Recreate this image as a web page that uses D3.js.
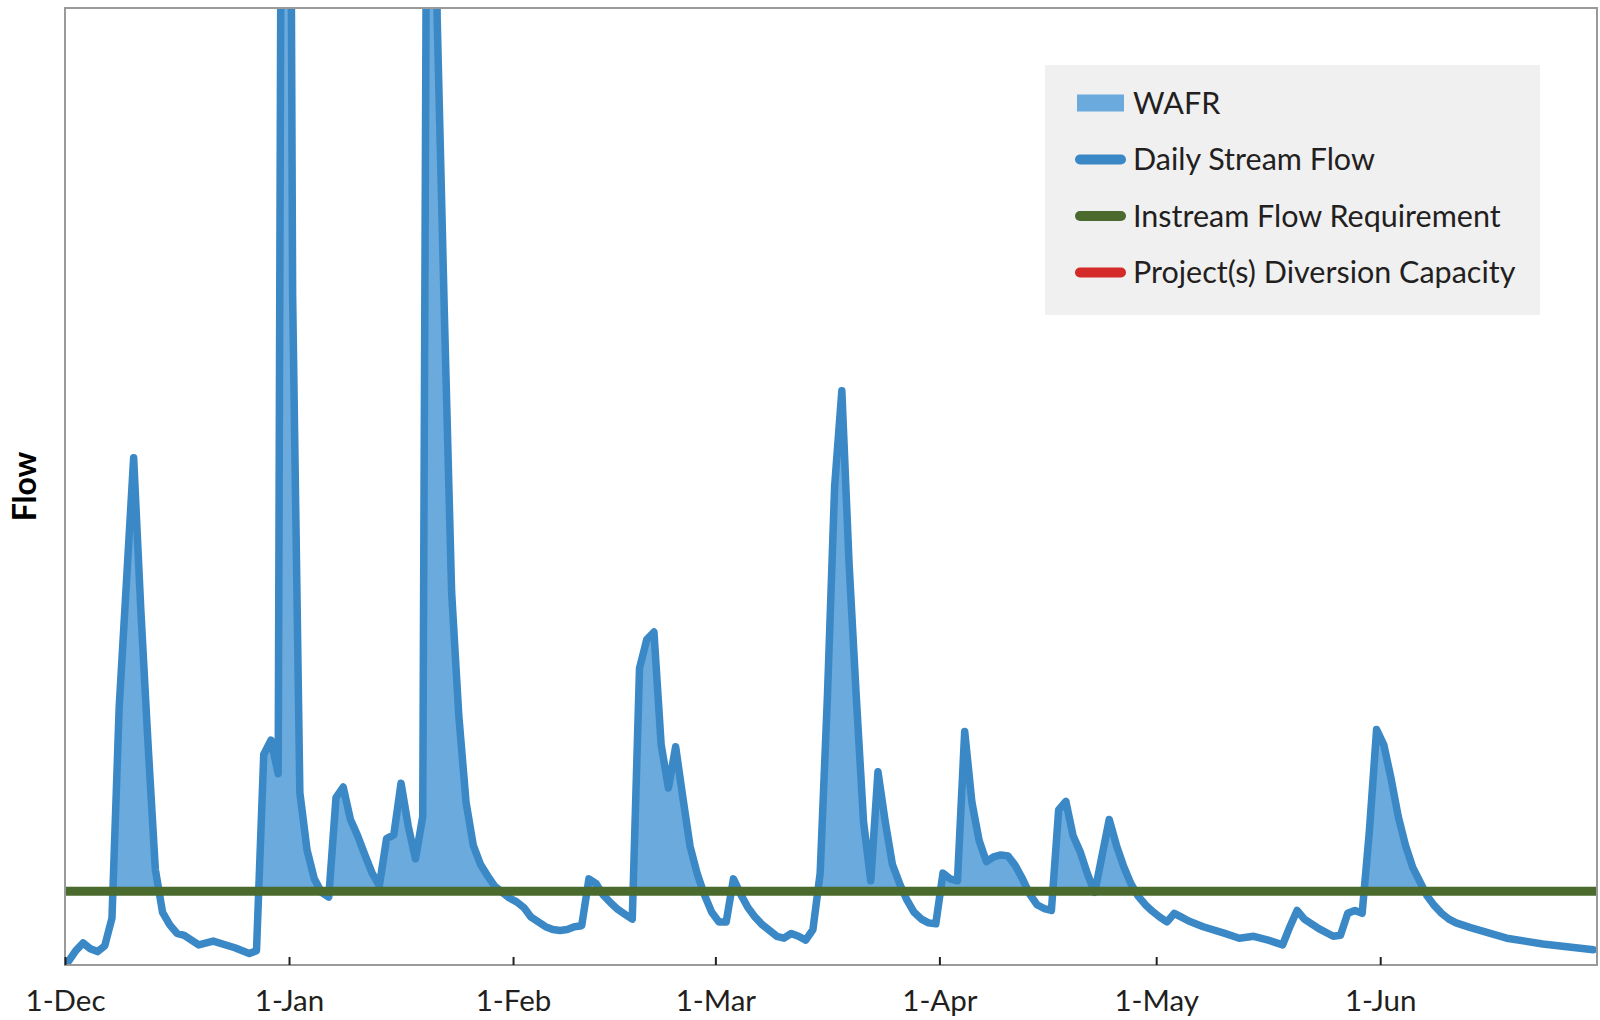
<!DOCTYPE html>
<html><head><meta charset="utf-8">
<script src="https://cdn.jsdelivr.net/npm/d3@7"></script>
<style>body{margin:0;background:#fff;} svg{display:block;}</style>
</head><body>
<svg id="chart" width="1600" height="1020"></svg>
<script>
// Daily stream flow vertices: days after 1-Dec, and flow (relative units)
const dayOffsets = [0,1,2,3,4,5,6,7,8,9,10,11,12,13,14,15,16,18,20,23,25,26,27,28,29,30,31,32,33,34,35,36,37,38,39,40,41,42,43,44,45,46,47,48,49,50,51,52,53,54,55,56,57,58,59,60,61,62,63,64,65,66,67,68,69,70,71,72,73,74,75,76,77,78,79,80,81,82,83,84,85,86,87,88,89,90,91,92,93,94,95,96,97,98,99,100,101,102,103,104,105,106,107,108,109,110,111,112,113,114,115,116,117,118,119,120,121,122,123,124,125,126,127,128,129,130,131,132,133,134,135,136,137,138,139,140,141,142,144,145,146,147,148,149,150,151,152,153,154,155,157,160,162,164,166,168,169,170,171,173,175,176,177,178,179,180,181,182,183,184,185,186,187,188,189,190,191,192,194,199,204,211];
const flowValues = [0.4,1.5,2.3,1.7,1.4,2.0,4.9,27,40,53,37,23,10,5.5,4.2,3.3,3.1,2.1,2.5,1.8,1.2,1.5,22,23.5,20,250,70,18,12,9,7.6,7.1,17.5,18.6,15.2,13.5,11.5,9.6,8.3,13.2,13.6,19.0,14.5,11.1,15.5,200,99,68,39,26,17,12.5,10.5,9.3,8.2,7.6,7.0,6.6,6.0,5.0,4.5,4.0,3.7,3.6,3.7,4.0,4.1,9.0,8.5,7.3,6.5,5.8,5.3,4.8,31,34,34.8,23,18.5,22.8,17.5,12.4,9.5,7.3,5.5,4.5,4.5,9.0,7.4,6.0,5.0,4.2,3.6,3.0,2.8,3.3,3.0,2.6,3.7,9.6,28,50,60,42,28,15,8.8,20.2,15,10.5,8.5,6.8,5.5,4.8,4.4,4.3,9.6,9.0,8.8,24.4,17,13,10.8,11.3,11.5,11.4,10.4,9.0,7.4,6.3,5.9,5.7,16.2,17.1,13.5,11.8,9.5,7.6,15.2,12.5,10.3,8.5,7.2,6.3,5.6,5.0,4.5,5.4,5.0,4.6,4.0,3.3,2.8,3.0,2.6,2.1,4.0,5.7,4.8,3.8,3.0,3.1,5.4,5.7,5.4,14,24.6,23,19.5,15.5,12.5,10.2,8.7,7.2,6.2,5.4,4.8,4.4,3.9,2.8,2.2,1.6];
const instreamFlowRequirement = 7.7;
const tickDates = ["2014-12-01","2015-01-01","2015-02-01","2015-03-01","2015-04-01","2015-05-01","2015-06-01"];
const tickLabels = ["1-Dec","1-Jan","1-Feb","1-Mar","1-Apr","1-May","1-Jun"];
const legendLabels = ["WAFR","Daily Stream Flow","Instream Flow Requirement","Project(s) Diversion Capacity"];
const legendColors = ["#6aaadc","#3a88c6","#4a6a2e","#d42a2a"];

const svg = d3.select("#chart");
const L = 65, T = 8, R = 1597, B = 965;
const start = new Date(Date.UTC(2014, 11, 1));
const end = new Date(Date.UTC(2015, 6, 1));
const x = d3.scaleUtc().domain([start, end]).range([L, R]);
const y = d3.scaleLinear().domain([0, 100]).range([B, T]);
const DAY = 864e5;
const data = dayOffsets.map((d, i) => ({date: new Date(start.getTime() + (d + 0.5) * DAY), v: flowValues[i]}));

const defs = svg.append("defs");
defs.append("clipPath").attr("id", "plotClip").append("rect")
  .attr("x", L).attr("y", T).attr("width", R - L).attr("height", B - T);
defs.append("clipPath").attr("id", "aboveClip").append("rect")
  .attr("x", L).attr("y", T).attr("width", R - L).attr("height", y(instreamFlowRequirement) - T);

const plot = svg.append("g").attr("clip-path", "url(#plotClip)");

plot.append("g").attr("clip-path", "url(#aboveClip)")
  .append("path").datum(data)
  .attr("fill", "#6aaadc")
  .attr("d", d3.area().x(d => x(d.date)).y0(y(instreamFlowRequirement)).y1(d => y(d.v)));

plot.append("path").datum(data)
  .attr("fill", "none").attr("stroke", "#3a88c6").attr("stroke-width", 7.5)
  .attr("stroke-linejoin", "round").attr("stroke-linecap", "round")
  .attr("d", d3.line().x(d => x(d.date)).y(d => y(d.v)));

plot.append("line")
  .attr("x1", x(start)).attr("x2", x(end))
  .attr("y1", y(instreamFlowRequirement)).attr("y2", y(instreamFlowRequirement))
  .attr("stroke", "#4a6a2e").attr("stroke-width", 9);

// frame
svg.append("rect").attr("x", L).attr("y", T).attr("width", R - L).attr("height", B - T)
  .attr("fill", "none").attr("stroke", "#9a9a9a").attr("stroke-width", 2);

// x axis
const axis = d3.axisBottom(x)
  .tickValues(tickDates.map(s => new Date(s + "T00:00:00Z")))
  .tickFormat((d, i) => tickLabels[i])
  .tickSize(-8).tickPadding(25);
const ax = svg.append("g").attr("transform", `translate(0,${B})`).call(axis);
ax.select(".domain").remove();
ax.selectAll(".tick line").attr("stroke", "#231f20").attr("stroke-width", 2);
ax.selectAll(".tick text").attr("font-family", "Lato, sans-serif").attr("font-size", 29.5).attr("fill", "#231f20");

// y label
svg.append("text").attr("transform", `translate(36,${(T + B) / 2}) rotate(-90)`)
  .attr("text-anchor", "middle").attr("font-family", "Lato, sans-serif")
  .attr("font-weight", "bold").attr("font-size", 32).attr("fill", "#000").text("Flow");

// legend
const lg = svg.append("g");
lg.append("rect").attr("x", 1045).attr("y", 65).attr("width", 495).attr("height", 250).attr("fill", "#f0f0f0");
legendLabels.forEach((lab, i) => {
  const cy = 103 + i * 56.5;
  if (i === 0) {
    lg.append("rect").attr("x", 1077).attr("y", cy - 8.5).attr("width", 47).attr("height", 17).attr("fill", legendColors[i]);
  } else {
    lg.append("line").attr("x1", 1080).attr("x2", 1121).attr("y1", cy).attr("y2", cy)
      .attr("stroke", legendColors[i]).attr("stroke-width", 10).attr("stroke-linecap", "round");
  }
  lg.append("text").attr("x", 1133).attr("y", cy).attr("dy", "0.35em")
    .attr("font-family", "Lato, sans-serif").attr("font-size", 30.5).attr("fill", "#231f20").text(lab);
});
</script>
</body></html>
